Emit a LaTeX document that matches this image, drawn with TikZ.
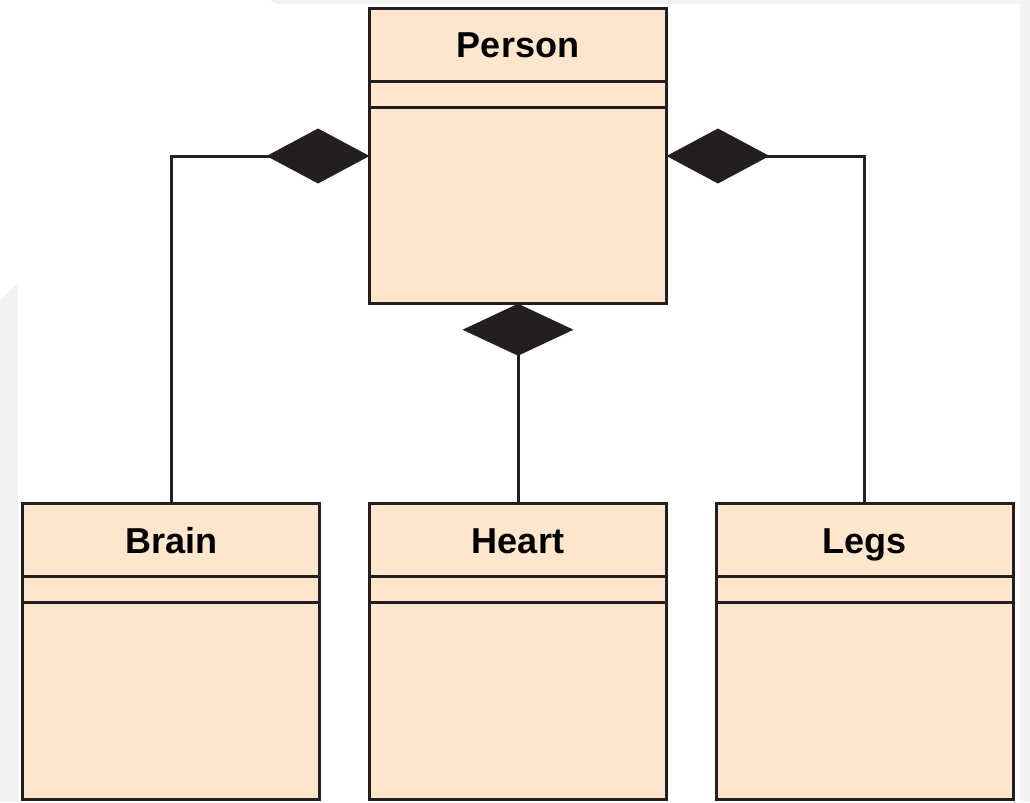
\documentclass[tikz,border=0pt]{standalone}
\usepackage{fontspec}
\setmainfont{Liberation Sans}
\usetikzlibrary{arrows.meta}
\usetikzlibrary{positioning}
\definecolor{peach}{HTML}{FFE6CC}
\definecolor{boxline}{HTML}{231F20}
\definecolor{backgray}{HTML}{F2F2F2}

\begin{document}
\begin{tikzpicture}[x=0.02cm,y=-0.02cm,line width=0.06cm,node distance=1cm,
  class node/.style={rectangle,draw=boxline,fill=peach,minimum width=5.94cm,minimum height=5.91cm,inner sep=0pt,outer sep=0pt},
  title node/.style={rectangle,minimum width=5.94cm,minimum height=1.46cm,inner sep=0pt,outer sep=0pt,text height=14.7pt,text depth=0pt,font=\fontsize{20.5}{24}\selectfont\bfseries},
  attr node/.style={rectangle,minimum width=5.94cm,minimum height=0.52cm,inner sep=0pt,outer sep=0pt},
  comp/.style={draw=boxline,-{Diamond[length=2.06cm,width=1.1cm]}}]

  % background
  \useasboundingbox (0,0) rectangle (1030,802);
  \fill[backgray] (0,0) rectangle (1030,802);
  \fill[white] (0,0) -- (270,0) -- (276,4) -- (1020,4) -- (1020,802) -- (18,802) -- (18,282) -- (0,300) -- cycle;

  % classes
  \node[class node] (person) at (518,156) {};
  \node[class node] (heart) [below=4cm of person] {};
  \node[class node] (brain) [left=of heart] {};
  \node[class node] (legs) [right=of heart] {};

  \node[title node] (personT) [below=0pt of person.north] {Person};
  \node[title node] (brainT) [below=0pt of brain.north] {Brain};
  \node[title node] (heartT) [below=0pt of heart.north] {Heart};
  \node[title node] (legsT) [below=0pt of legs.north] {Legs};

  \node[attr node] (personA) [below=0pt of personT] {};
  \node[attr node] (brainA) [below=0pt of brainT] {};
  \node[attr node] (heartA) [below=0pt of heartT] {};
  \node[attr node] (legsA) [below=0pt of legsT] {};

  \draw[boxline] (personT.south west) -- (personT.south east);
  \draw[boxline] (personA.south west) -- (personA.south east);
  \draw[boxline] (brainT.south west) -- (brainT.south east);
  \draw[boxline] (brainA.south west) -- (brainA.south east);
  \draw[boxline] (heartT.south west) -- (heartT.south east);
  \draw[boxline] (heartA.south west) -- (heartA.south east);
  \draw[boxline] (legsT.south west) -- (legsT.south east);
  \draw[boxline] (legsA.south west) -- (legsA.south east);

  % composition links
  \draw[comp] (brain.north) |- (person.west);
  \draw[comp,-{Diamond[length=1.04cm,width=2.22cm]}] (heart.north) -- (person.south);
  \draw[comp] (legs.north) |- (person.east);
\end{tikzpicture}
\end{document}
